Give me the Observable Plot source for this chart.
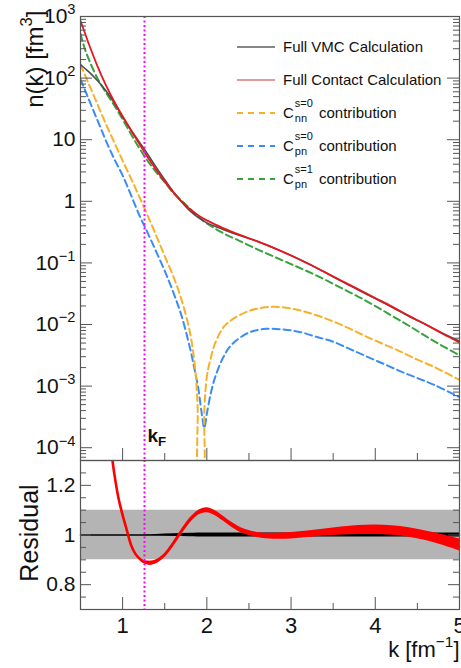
<!DOCTYPE html>
<html>
<head>
<meta charset="utf-8">
<script src="https://cdn.jsdelivr.net/npm/d3@7"></script>
<script src="https://cdn.jsdelivr.net/npm/@observablehq/plot@0.6"></script>
<style>
  html, body { margin: 0; padding: 0; background: #fff; }
  body { width: 461px; height: 668px; overflow: hidden; font-family: "Liberation Sans", Arial, sans-serif; }
  #fig { position: relative; width: 461px; height: 668px; }
  #topPanel { position: absolute; left: 0; top: 0; }
  #botPanel { position: absolute; left: 0; top: 459px; }
  #legend { position: absolute; left: 0; top: 0; pointer-events: none; }
  .row { position: absolute; left: 237px; height: 20px; display: flex; align-items: center; white-space: nowrap; font-size: 15px; color: #111; }
  .row svg { display: block; }
  .row .txt { margin-left: 8px; line-height: 20px; }
  .ss { position: relative; display: inline-block; width: 21px; height: 15px; vertical-align: -2px; }
  .ss .a { position: absolute; left: 1px; top: -7px; font-size: 11px; line-height: 11px; }
  .ss .b { position: absolute; left: 1px; top: 8px; font-size: 11px; line-height: 11px; }
</style>
</head>
<body>
<div id="fig">
  <div id="topPanel"></div>
  <div id="botPanel"></div>
  <div id="legend"></div>
</div>
<script>
// ---------------- data ----------------
const kDomain = [0.5, 5];
const nDomain = [6.2e-5, 1000];
const resDomain = [0.7, 1.3];
const kF = 1.26;

// momentum grid for the full curves and the s=1 contribution
const kMain = [0.5,0.55,0.6,0.7,0.8,0.9,1.0,1.1,1.2,1.3,1.4,1.5,1.6,1.7,1.8,1.9,2.0,2.2,2.4,2.6,2.8,3.0,3.2,3.4,3.6,3.8,4.0,4.2,4.4,4.6,4.8,5.0];
// log10 n(k) values
const contactLog = [2.93,2.74,2.55,2.20,1.89,1.62,1.38,1.15,0.93,0.71,0.51,0.32,0.15,0.00,-0.13,-0.23,-0.31,-0.44,-0.55,-0.65,-0.76,-0.88,-1.01,-1.15,-1.29,-1.43,-1.57,-1.71,-1.86,-2.00,-2.15,-2.29];
const vmcLog     = [2.22,2.16,2.10,1.96,1.80,1.60,1.37,1.16,0.96,0.76,0.55,0.35,0.16,-0.01,-0.155,-0.265,-0.35,-0.46,-0.56,-0.65,-0.76,-0.88,-1.01,-1.15,-1.30,-1.44,-1.58,-1.72,-1.865,-2.00,-2.14,-2.27];
const pnS1Log    = [2.72,2.48,2.30,2.00,1.77,1.56,1.33,1.09,0.86,0.65,0.47,0.31,0.14,0.01,-0.12,-0.25,-0.36,-0.52,-0.65,-0.78,-0.90,-1.02,-1.14,-1.27,-1.41,-1.55,-1.70,-1.86,-2.02,-2.19,-2.35,-2.50];

const kNN = [0.5,0.6,0.7,0.8,0.9,1.0,1.1,1.2,1.3,1.4,1.5,1.6,1.7,1.8,1.86,1.89,1.91,1.95,1.97,2.0,2.04,2.1,2.2,2.3,2.5,2.7,2.9,3.1,3.3,3.5,3.7,3.9,4.1,4.3,4.5,4.7,5.0];
const nnS0Log = [2.22,1.90,1.58,1.26,0.96,0.66,0.37,0.07,-0.24,-0.56,-0.89,-1.21,-1.60,-2.13,-2.70,-3.30,-4.5,-4.5,-3.4,-2.85,-2.58,-2.30,-2.04,-1.92,-1.78,-1.72,-1.72,-1.77,-1.85,-1.95,-2.07,-2.20,-2.32,-2.44,-2.57,-2.69,-2.90];

const kPN = [0.5,0.6,0.7,0.8,0.9,1.0,1.1,1.2,1.3,1.4,1.5,1.6,1.7,1.8,1.85,1.9,1.94,1.97,2.0,2.05,2.1,2.2,2.3,2.5,2.7,2.9,3.1,3.3,3.5,3.7,3.9,4.1,4.3,4.5,4.7,5.0];
const pnS0Log = [1.98,1.65,1.32,0.99,0.69,0.42,0.10,-0.23,-0.52,-0.82,-1.13,-1.47,-1.86,-2.38,-2.70,-3.05,-3.45,-3.68,-3.45,-3.10,-2.85,-2.52,-2.32,-2.13,-2.07,-2.08,-2.12,-2.20,-2.28,-2.40,-2.52,-2.64,-2.76,-2.87,-2.98,-3.18];

// residual panel
const kRes = [0.85,0.88,0.9,0.95,1.0,1.05,1.1,1.15,1.2,1.25,1.3,1.35,1.4,1.5,1.6,1.7,1.8,1.9,2.0,2.1,2.2,2.3,2.4,2.6,2.8,3.0,3.2,3.4,3.6,3.8,4.0,4.2,4.4,4.6,4.8,5.0];
const resContact = [1.42,1.30,1.25,1.15,1.08,1.02,0.96,0.925,0.905,0.892,0.887,0.887,0.893,0.92,0.965,1.015,1.06,1.09,1.10,1.088,1.065,1.040,1.020,1.000,0.995,0.997,1.003,1.010,1.016,1.020,1.021,1.018,1.010,0.997,0.980,0.960];
const resContactErr = [0.004,0.004,0.004,0.004,0.004,0.004,0.004,0.004,0.005,0.006,0.008,0.008,0.007,0.006,0.006,0.007,0.008,0.009,0.010,0.010,0.010,0.010,0.010,0.010,0.012,0.013,0.013,0.014,0.016,0.018,0.019,0.019,0.019,0.019,0.021,0.024];
const kVmcBand = [0.5,1.2,1.4,1.6,1.8,2.0,2.5,3.0,4.0,5.0];
const resVmc = [1,1,1,1,1,1,1,1,1,1];
const resVmcErr = [0.0,0.0,0.002,0.005,0.007,0.008,0.008,0.008,0.008,0.008];
const greyBandK = [0.5, 5];
const greyBandLow = 0.9, greyBandHigh = 1.1;

// ticks and labels
const nTicks = [1e3,1e2,10,1,1e-1,1e-2,1e-3,1e-4];
const nTickLabels = ["10^{3}","10^{2}","10","1","10^{−1}","10^{−2}","10^{−3}","10^{−4}"];
const nMinorTicks = [];
for (let e = -5; e < 3; e++) for (let m = 2; m <= 9; m++) { const v = m * Math.pow(10, e); if (v >= nDomain[0] && v <= nDomain[1]) nMinorTicks.push(v); }
const kMajorTicks = [1,2,3,4,5];
const kMinorTicks = [1.5,2.5,3.5,4.5];
const kTickLabels = ["1","2","3","4","5"];
const resMajorTicks = [0.8,1.0,1.2];
const resMinorTicks = [0.75,0.85,0.9,0.95,1.05,1.1,1.15,1.25];
const resTickLabels = ["0.8","1","1.2"];

const legendLabels = ["Full VMC Calculation","Full Contact Calculation","C^{s=0}_{nn} contribution","C^{s=0}_{pn} contribution","C^{s=1}_{pn} contribution"];
const colVMC = "#4d4d4d", colContact = "#e8161f", colNN = "#f7b02a", colPN0 = "#3a8cf5", colPN1 = "#37a33c";
const legendColors = ["#111111","#c0393b",colNN,colPN0,colPN1];
const legendDashed = [false,false,true,true,true];

// --------------- build tables for Plot ----------------
const pow10 = v => Math.pow(10, v);
const tbl = (ks, logs) => ks.map((k, i) => ({k, n: pow10(logs[i])}));
const contact = tbl(kMain, contactLog);
const vmc = tbl(kMain, vmcLog);
const pnS1 = tbl(kMain, pnS1Log);
const nnS0 = tbl(kNN, nnS0Log);
const pnS0 = tbl(kPN, pnS0Log);
const resC = kRes.map((k, i) => ({k, r: resContact[i], lo: resContact[i] - resContactErr[i], hi: resContact[i] + resContactErr[i]}));
const resV = kVmcBand.map((k, i) => ({k, r: resVmc[i], lo: resVmc[i] - resVmcErr[i], hi: resVmc[i] + resVmcErr[i]}));

const W = 461, ML = 80, MR = 2;
const innerW = W - ML - MR;
const font = "'Liberation Sans', Arial, Helvetica, sans-serif";
const axisCol = "#555";
const dash = "7,4";

// --------------- top panel ----------------
const topH = 461, topMT = 16, topMB = 1;
const topInnerH = topH - topMT - topMB;
const topPlot = Plot.plot({
  width: W, height: topH,
  marginTop: topMT, marginBottom: topMB, marginLeft: ML, marginRight: MR,
  style: {fontFamily: font, fontSize: "21px", background: "transparent", color: "#111", overflow: "visible"},
  x: {domain: kDomain, axis: null},
  y: {type: "log", domain: nDomain},
  marks: [
    Plot.line(pnS0, {x: "k", y: "n", stroke: colPN0, strokeWidth: 2, strokeDasharray: dash, curve: "catmull-rom", clip: true}),
    Plot.line(nnS0, {x: "k", y: "n", stroke: colNN, strokeWidth: 2, strokeDasharray: dash, curve: "catmull-rom", clip: true}),
    Plot.line(pnS1, {x: "k", y: "n", stroke: colPN1, strokeWidth: 2, strokeDasharray: dash, curve: "catmull-rom", clip: true}),
    Plot.line(vmc, {x: "k", y: "n", stroke: colVMC, strokeWidth: 1.6, curve: "catmull-rom", clip: true}),
    Plot.line(contact, {x: "k", y: "n", stroke: colContact, strokeWidth: 1.8, curve: "catmull-rom", clip: true}),
    Plot.ruleX([kF], {x: d => d, stroke: "#ff00ff", strokeWidth: 2, strokeDasharray: "2,2.5"}),
    Plot.text(["k_{F}"], {x: () => kF, frameAnchor: "bottom", text: d => d, textAnchor: "start", dx: 3, dy: -19, fontSize: 19, fontWeight: "bold", fill: "#111"}),
    // inward ticks
    Plot.tickX(kMajorTicks, {x: d => d, insetTop: topInnerH - 12, stroke: axisCol}),
    Plot.tickX(kMinorTicks, {x: d => d, insetTop: topInnerH - 7, stroke: axisCol}),
    Plot.tickY(nTicks, {y: d => d, insetRight: innerW - 12, stroke: axisCol}),
    Plot.tickY(nMinorTicks, {y: d => d, insetRight: innerW - 6, stroke: axisCol}),
    Plot.tickY(nTicks, {y: d => d, insetLeft: innerW - 12, stroke: axisCol}),
    Plot.tickY(nMinorTicks, {y: d => d, insetLeft: innerW - 6, stroke: axisCol}),
    Plot.axisY({ticks: nTicks, tickFormat: d => nTickLabels[nTicks.indexOf(d)], tickSize: 0, tickPadding: 5, fontSize: 21, label: null}),
    Plot.text(["n(k) [fm^{3}]"], {frameAnchor: "top-left", text: d => d, rotate: -90, textAnchor: "end", dx: -55, dy: -6, fontSize: 24, fill: "#111"}),
    Plot.frame({stroke: axisCol, strokeWidth: 1.2})
  ]
});
document.getElementById("topPanel").appendChild(topPlot);

// --------------- bottom panel ----------------
const botH = 209, botMT = 1, botMB = 59;
const botInnerH = botH - botMT - botMB;
const botPlot = Plot.plot({
  width: W, height: botH,
  marginTop: botMT, marginBottom: botMB, marginLeft: ML, marginRight: MR,
  style: {fontFamily: font, fontSize: "21px", background: "transparent", color: "#111", overflow: "visible"},
  x: {domain: kDomain},
  y: {domain: resDomain},
  marks: [
    Plot.areaY(greyBandK, {x: d => d, y1: () => greyBandLow, y2: () => greyBandHigh, fill: "#b4b4b4"}),
    Plot.areaY(resV, {x: "k", y1: "lo", y2: "hi", fill: "#000", curve: "catmull-rom"}),
    Plot.line(resV, {x: "k", y: "r", stroke: "#000", strokeWidth: 1.6}),
    Plot.areaY(resC, {x: "k", y1: "lo", y2: "hi", fill: "#ff0000", curve: "catmull-rom", clip: true}),
    Plot.line(resC, {x: "k", y: "r", stroke: "#ff0000", strokeWidth: 2.6, curve: "catmull-rom", clip: true}),
    Plot.ruleX([kF], {x: d => d, stroke: "#ff00ff", strokeWidth: 2, strokeDasharray: "2,2.5"}),
    Plot.tickX(kMajorTicks, {x: d => d, insetTop: botInnerH - 12, stroke: axisCol}),
    Plot.tickX(kMinorTicks, {x: d => d, insetTop: botInnerH - 6, stroke: axisCol}),
    Plot.tickY(resMajorTicks, {y: d => d, insetRight: innerW - 11, stroke: axisCol}),
    Plot.tickY(resMinorTicks, {y: d => d, insetRight: innerW - 6, stroke: axisCol}),
    Plot.tickY(resMajorTicks, {y: d => d, insetLeft: innerW - 11, stroke: axisCol}),
    Plot.tickY(resMinorTicks, {y: d => d, insetLeft: innerW - 6, stroke: axisCol}),
    Plot.axisY({ticks: resMajorTicks, tickFormat: d => resTickLabels[resMajorTicks.indexOf(d)], tickSize: 0, tickPadding: 5, fontSize: 21, label: null}),
    Plot.axisX({ticks: kMajorTicks, tickFormat: d => kTickLabels[kMajorTicks.indexOf(d)], tickSize: 0, tickPadding: 8, fontSize: 22, label: null}),
    Plot.text(["Residual"], {frameAnchor: "left", text: d => d, rotate: -90, textAnchor: "middle", dx: -51, dy: -2, fontSize: 25, fill: "#111"}),
    Plot.text(["k [fm^{−1}]"], {frameAnchor: "bottom-right", text: d => d, textAnchor: "end", dx: 0, dy: 47, fontSize: 22, fill: "#111"}),
    Plot.frame({stroke: axisCol, strokeWidth: 1.2})
  ]
});
document.getElementById("botPanel").appendChild(botPlot);

// --------------- rich text (super/subscripts) ----------------
function richify(svg) {
  const NS = "http://www.w3.org/2000/svg";
  svg.querySelectorAll("text").forEach(t => {
    const s = t.textContent;
    if (!/[\^_]\{/.test(s)) return;
    const fs = parseFloat(getComputedStyle(t).fontSize) || 16;
    while (t.firstChild) t.removeChild(t.firstChild);
    const re = /([\^_])\{([^}]*)\}|([^\^_]+)/g;
    let m, cur = 0;
    while ((m = re.exec(s))) {
      const ts = document.createElementNS(NS, "tspan");
      let target;
      if (m[3] !== undefined) { ts.textContent = m[3]; target = 0; }
      else {
        ts.textContent = m[2];
        ts.setAttribute("font-size", (fs * 0.7).toFixed(1));
        target = m[1] === "^" ? -0.42 * fs : 0.22 * fs;
      }
      ts.setAttribute("dy", (target - cur).toFixed(1));
      cur = target;
      t.appendChild(ts);
    }
  });
}
richify(topPlot);
richify(botPlot);

// --------------- legend ----------------
const legendRowCenters = [47, 80, 113, 146, 179];
const legend = document.getElementById("legend");
function labelHTML(s) {
  const m = s.match(/^(.*?)\^\{([^}]*)\}_\{([^}]*)\}(.*)$/);
  if (!m) return s;
  return `${m[1]}<span class="ss"><span class="a">${m[2]}</span><span class="b">${m[3]}</span></span>${m[4]}`;
}
legendLabels.forEach((lab, i) => {
  const row = document.createElement("div");
  row.className = "row";
  row.style.top = (legendRowCenters[i] - 10) + "px";
  const sw = legendDashed[i] ? 2 : 1.2;
  const da = legendDashed[i] ? `stroke-dasharray="6,5"` : "";
  row.innerHTML = `<svg width="38" height="20"><line x1="0" y1="10" x2="38" y2="10" stroke="${legendColors[i]}" stroke-width="${sw}" ${da}/></svg><span class="txt">${labelHTML(lab)}</span>`;
  legend.appendChild(row);
});
</script>
</body>
</html>
